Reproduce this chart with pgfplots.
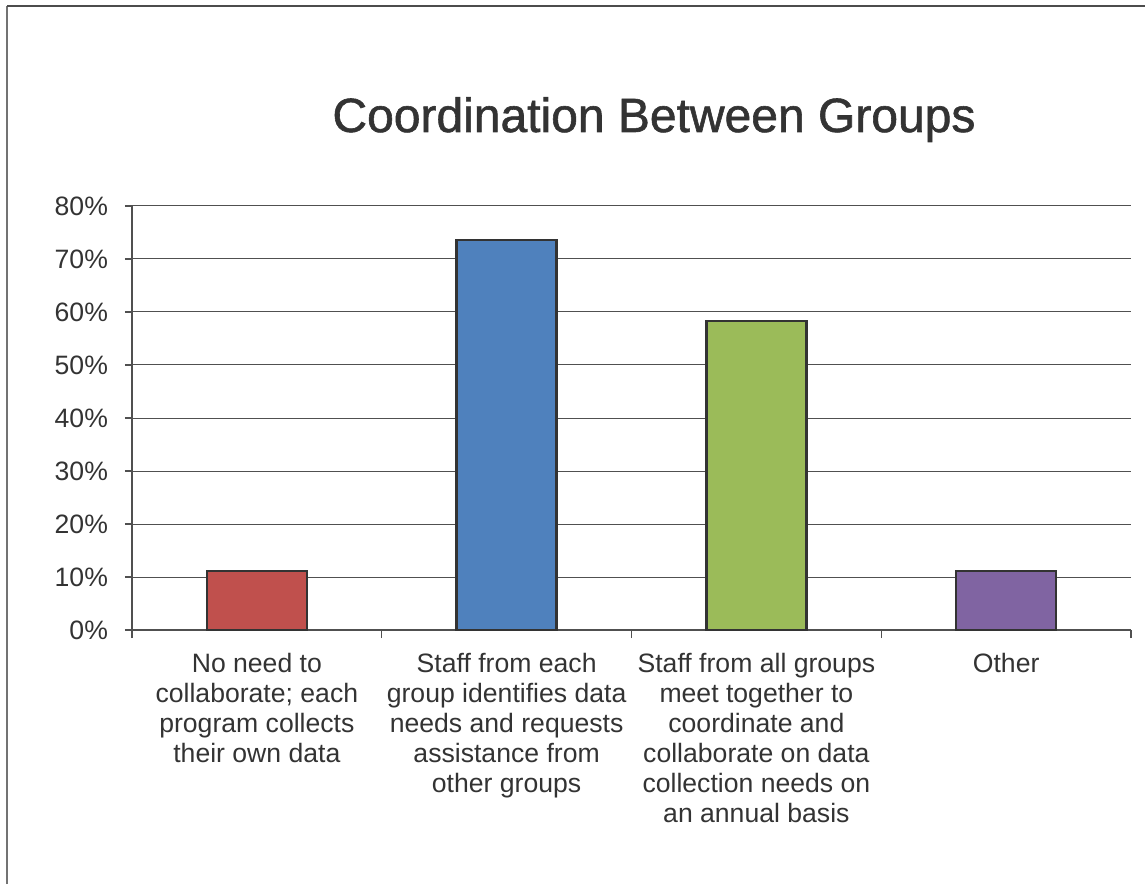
\documentclass[border=0pt]{standalone}
\usepackage{fontspec}
\setmainfont{Liberation Sans}
\newfontfamily\titlefont[FakeBold=1.2]{Liberation Sans}
\usepackage{pgfplots}
\pgfplotsset{compat=1.18}
\definecolor{txt}{HTML}{333333}
\definecolor{cred}{HTML}{C0504D}
\definecolor{cblue}{HTML}{4F81BD}
\definecolor{cgreen}{HTML}{9BBB59}
\definecolor{cpurple}{HTML}{8064A2}
\definecolor{gridc}{HTML}{505050}
\begin{document}
\begin{tikzpicture}[x=0.5pt,y=0.5pt]
\path[use as bounding box] (0,0) rectangle (1145,884);
\draw[line width=1pt,color=black!55] (7,0) -- (7,878);
\draw[line width=1pt,color=black!70] (7,878) -- (1145,878);
\node[anchor=base,font=\titlefont\fontsize{24}{28}\selectfont,text=txt,inner sep=0pt] at (654,752) {Coordination Between Groups};
\begin{axis}[
  at={(66pt,127pt)}, anchor=south west,
  scale only axis, width=499.5pt, height=212pt,
  xmin=-0.5, xmax=3.5, ymin=0, ymax=80,
  axis x line=bottom, axis y line=left,
  axis line style={-, color=gridc, line width=0.6pt},
  ytick={0,10,...,80},
  yticklabel={\pgfmathprintnumber{\tick}\%},
  /pgf/number format/assume math mode=true,
  ymajorgrids, major grid style={color=gridc, line width=0.5pt},
  tick align=outside,
  major tick length=3.5pt,
  minor tick length=4pt,
  tick style={color=gridc, line width=0.6pt},
  xtick={0,1,2,3},
  major x tick style={draw=none},
  minor xtick={-0.5,0.5,1.5,2.5,3.5},
  xticklabels={{No need to\\collaborate; each\\program collects\\their own data},
    {Staff from each\\group identifies data\\needs and requests\\assistance from\\other groups},
    {Staff from all groups\\meet together to\\coordinate and\\collaborate on data\\collection needs on\\an annual basis},
    {Other}},
  x tick label style={align=center, font=\fontsize{13.3}{15}\selectfont, text=txt, anchor=north, yshift=-4.5pt},
  y tick label style={font=\fontsize{13.3}{15}\selectfont, text=txt, xshift=-5pt},
  bar width=50pt,
  ybar, bar shift=0pt,
]
\addplot[fill=cred, draw=txt, line width=1.2pt] coordinates {(0,11.1)};
\addplot[fill=cblue, draw=txt, line width=1.2pt] coordinates {(1,73.6)};
\addplot[fill=cgreen, draw=txt, line width=1.2pt] coordinates {(2,58.3)};
\addplot[fill=cpurple, draw=txt, line width=1.2pt] coordinates {(3,11.1)};
\end{axis}
\end{tikzpicture}
\end{document}
